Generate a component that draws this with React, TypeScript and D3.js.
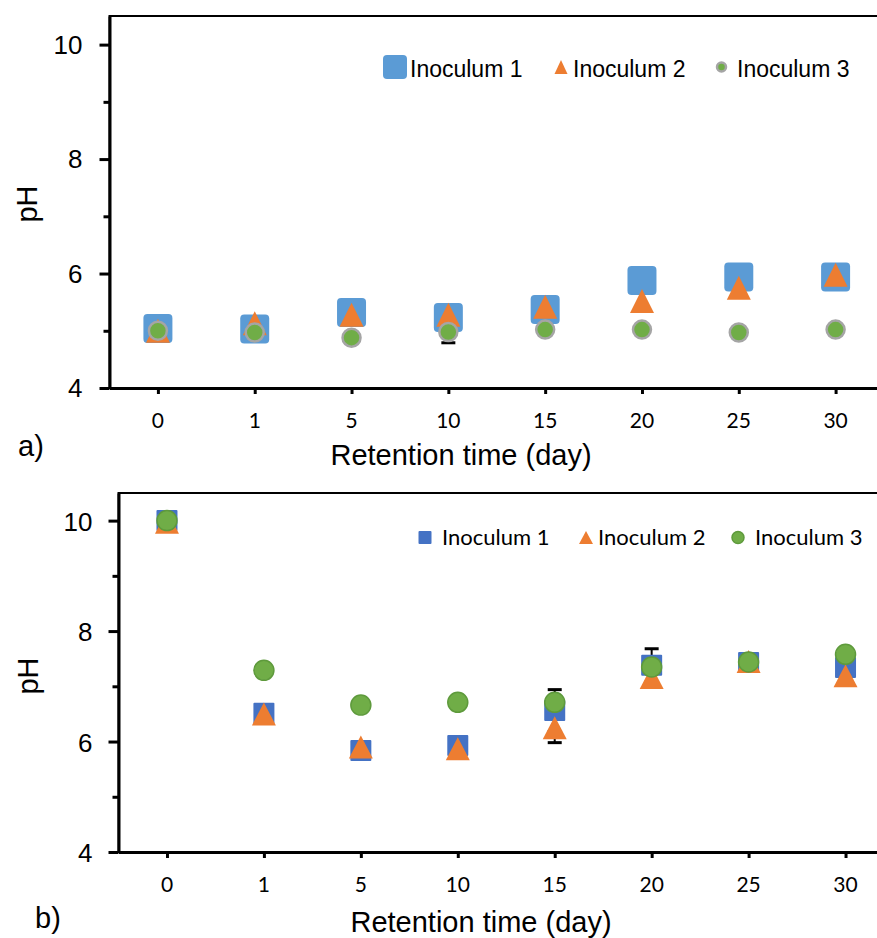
import React, { useEffect, useRef } from "react";
import * as d3 from "d3";

// retention time categories (day)
const days = ["0", "1", "5", "10", "15", "20", "25", "30"];
const yMajor = [4, 6, 8, 10];
const yMinor = [5, 7, 9];
const seriesNames = ["Inoculum 1", "Inoculum 2", "Inoculum 3"];

// panel a)
const phA1 = [5.04, 5.03, 5.32, 5.23, 5.37, 5.88, 5.94, 5.94];
const phA2 = [5.0, 5.13, 5.28, 5.28, 5.42, 5.52, 5.75, 5.98];
const phA3 = [5.0, 4.97, 4.88, 4.98, 5.02, 5.02, 4.97, 5.02];
const errA1 = [0, 0, 0, 0, 0, 0, 0, 0];
const errA2 = [0, 0, 0, 0, 0, 0, 0, 0];
const errA3 = [0, 0, 0.09, 0.19, 0, 0, 0, 0];

// panel b)
const phB1 = [10.0, 6.51, 5.84, 5.93, 6.56, 7.38, 7.43, 7.34];
const phB2 = [9.97, 6.5, 5.9, 5.87, 6.25, 7.16, 7.45, 7.19];
const phB3 = [10.0, 7.29, 6.66, 6.71, 6.71, 7.35, 7.44, 7.58];
const errB1 = [0, 0, 0, 0, 0.38, 0.3, 0, 0];
const errB2 = [0, 0, 0, 0, 0.27, 0, 0, 0];
const errB3 = [0, 0, 0, 0, 0, 0, 0, 0];

const ARIAL = "'Liberation Sans', Arial, sans-serif";
const CALIBRI = "Lato, 'Open Sans', sans-serif";

const triPath = (w, h) => `M0,${-h / 2}L${w / 2},${h / 2}L${-w / 2},${h / 2}Z`;

function drawPanel(svg, cfg) {
  const { top, bottom, left, right, data, errs, style, label, legend } = cfg;
  const x = d3.scalePoint().domain(days).range([left, right]).padding(0.5);
  const y = d3.scaleLinear().domain([4, 10.5]).range([bottom, top]);
  const g = svg.append("g");

  // frame (top / right)
  g.append("rect")
    .attr("x", left).attr("y", top)
    .attr("width", right - left).attr("height", bottom - top)
    .attr("fill", "none").attr("stroke", "#000").attr("stroke-width", 2);

  // y axis
  const ya = g.append("g").attr("transform", `translate(${left},0)`)
    .call(d3.axisLeft(y).tickValues(yMajor).tickSize(10).tickSizeOuter(0).tickFormat(() => ""));
  ya.select(".domain").attr("stroke-width", 3);
  ya.selectAll(".tick line").attr("stroke-width", 3);
  const ym = g.append("g").attr("transform", `translate(${left},0)`)
    .call(d3.axisLeft(y).tickValues(yMinor).tickSize(6).tickSizeOuter(0).tickFormat(() => ""));
  ym.select(".domain").remove();
  ym.selectAll(".tick line").attr("stroke-width", 3);
  g.selectAll(".ylab").data(yMajor).enter().append("text")
    .attr("x", left + cfg.yLabelDx)
    .attr("y", (d) => y(d) + cfg.yLabelDy)
    .attr("text-anchor", "end")
    .attr("font-family", ARIAL).attr("font-size", 26)
    .text((d) => d);

  // x axis
  const xa = g.append("g").attr("transform", `translate(0,${bottom})`)
    .call(d3.axisBottom(x).tickSize(6).tickSizeOuter(0).tickFormat(() => ""));
  xa.select(".domain").attr("stroke-width", 3);
  xa.selectAll(".tick line").attr("stroke-width", 3);
  g.selectAll(".xlab").data(days).enter().append("text")
    .attr("x", (d) => x(d))
    .attr("y", bottom + cfg.xLabelDy)
    .attr("text-anchor", "middle")
    .attr("font-family", CALIBRI).attr("font-size", 21)
    .text((d) => d);

  // titles
  g.append("text")
    .attr("x", cfg.xTitle[0]).attr("y", cfg.xTitle[1])
    .attr("text-anchor", "middle").attr("font-family", ARIAL).attr("font-size", 29)
    .text("Retention time (day)");
  g.append("text")
    .attr("transform", `translate(${cfg.yTitle[0]},${cfg.yTitle[1]}) rotate(-90)`)
    .attr("text-anchor", "middle").attr("font-family", ARIAL).attr("font-size", 29)
    .text("pH");
  g.append("text")
    .attr("x", label[0]).attr("y", label[1])
    .attr("font-family", ARIAL).attr("font-size", 29)
    .text(label[2]);

  // error bars
  data.forEach((vals, si) => {
    vals.forEach((v, i) => {
      const e = errs[si][i];
      if (!e) return;
      const cx = x(days[i]);
      g.append("line").attr("x1", cx).attr("x2", cx)
        .attr("y1", y(v - e)).attr("y2", y(v + e))
        .attr("stroke", "#000").attr("stroke-width", 2);
      [v - e, v + e].forEach((c) => {
        g.append("line").attr("x1", cx - 7).attr("x2", cx + 7)
          .attr("y1", y(c)).attr("y2", y(c))
          .attr("stroke", "#000").attr("stroke-width", 3);
      });
    });
  });

  // markers
  const drawMarker = (sel, si, size) => {
    const s = style[si];
    if (si === 0) {
      sel.append("rect").attr("x", -size.sq / 2).attr("y", -size.sq / 2)
        .attr("width", size.sq).attr("height", size.sq).attr("rx", size.rx)
        .attr("fill", s.fill);
    } else if (si === 1) {
      sel.append("path").attr("d", triPath(size.tw, size.th)).attr("fill", s.fill);
    } else {
      sel.append("circle").attr("r", size.r)
        .attr("fill", s.fill).attr("stroke", s.stroke).attr("stroke-width", s.sw);
    }
  };

  data.forEach((vals, si) => {
    vals.forEach((v, i) => {
      const m = g.append("g").attr("transform", `translate(${x(days[i])},${y(v)})`);
      drawMarker(m, si, cfg.markSize);
    });
  });

  // legend
  seriesNames.forEach((name, si) => {
    const [mx, tx] = legend.pos[si];
    const m = g.append("g").attr("transform", `translate(${mx},${legend.y})`);
    drawMarker(m, si, legend.size);
    g.append("text").attr("x", tx).attr("y", legend.baseline)
      .attr("font-family", legend.font).attr("font-size", legend.fontSize)
      .text(name);
  });
}

const App = () => {
  const ref = useRef(null);

  useEffect(() => {
    const svg = d3.select(ref.current);
    svg.selectAll("*").remove();

    drawPanel(svg, {
      top: 16, bottom: 388, left: 109.5, right: 884,
      data: [phA1, phA2, phA3], errs: [errA1, errA2, errA3],
      style: [
        { fill: "#5B9BD5" },
        { fill: "#ED7D31" },
        { fill: "#70AD47", stroke: "#A5A5A5", sw: 2.5 },
      ],
      markSize: { sq: 29, rx: 4, tw: 24, th: 24, r: 9 },
      yLabelDx: -27, yLabelDy: 9, xLabelDy: 40,
      xTitle: [461, 465], yTitle: [37, 204], label: [18, 456, "a)"],
      legend: {
        y: 67, baseline: 77, font: ARIAL, fontSize: 23,
        pos: [[395, 410], [561, 573], [721.5, 737]],
        size: { sq: 24, rx: 4, tw: 13, th: 14, r: 4.5 },
      },
    });

    drawPanel(svg, {
      top: 493, bottom: 852, left: 118.5, right: 894,
      data: [phB1, phB2, phB3], errs: [errB1, errB2, errB3],
      style: [
        { fill: "#4472C4" },
        { fill: "#ED7D31" },
        { fill: "#70AD47", stroke: "#5E9A3C", sw: 1.5 },
      ],
      markSize: { sq: 21, rx: 1, tw: 24, th: 23, r: 10 },
      yLabelDx: -26, yLabelDy: 10, xLabelDy: 40,
      xTitle: [481, 932], yTitle: [38, 676], label: [35, 928, "b)"],
      legend: {
        y: 537.5, baseline: 545, font: CALIBRI, fontSize: 22,
        pos: [[425, 442], [586, 598], [738, 755]],
        size: { sq: 13, rx: 1, tw: 14, th: 13, r: 6 },
      },
    });
  }, []);

  return (
    <svg
      ref={ref}
      width={877}
      height={938}
      style={{ position: "absolute", left: 0, top: 0, background: "#fff" }}
    />
  );
};

export default App;
